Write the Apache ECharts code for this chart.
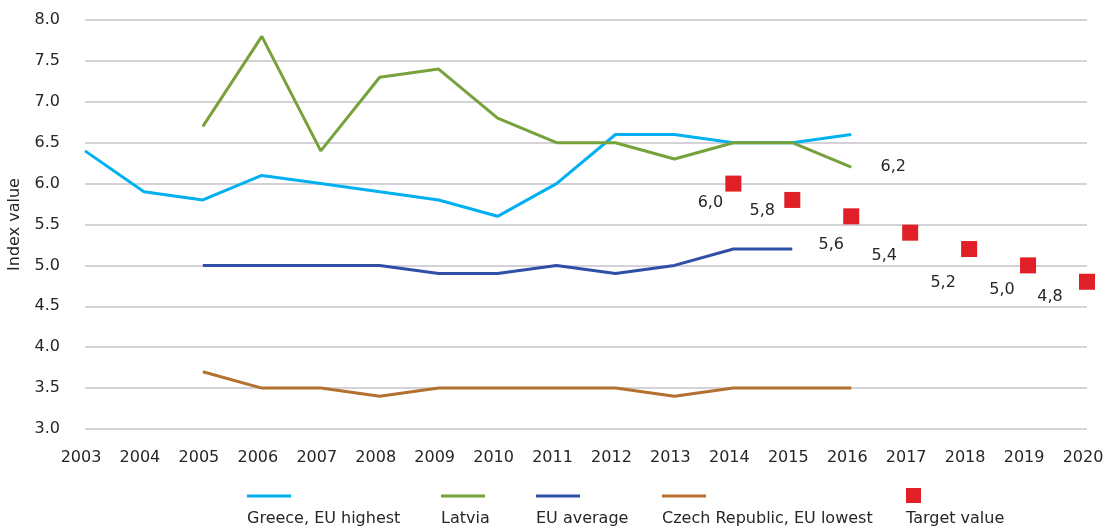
<!DOCTYPE html>
<html>
<head>
<meta charset="utf-8">
<script src="https://cdn.jsdelivr.net/npm/echarts@6/dist/echarts.min.js"></script>
<style>
  html, body { margin: 0; padding: 0; background: #fff; }
  #chart { width: 1104px; height: 530px; }
</style>
</head>
<body>
<div id="chart"></div>
<script>
// years on the x axis
const years = ['2003', '2004', '2005', '2006', '2007', '2008', '2009', '2010', '2011',
  '2012', '2013', '2014', '2015', '2016', '2017', '2018', '2019', '2020']

// index values per series (null = no data)
const greece = [6.4, 5.9, 5.8, 6.1, 6.0, 5.9, 5.8, 5.6, 6.0, 6.6, 6.6, 6.5, 6.5, 6.6, null, null, null, null]
const latvia = [null, null, 6.7, 7.8, 6.4, 7.3, 7.4, 6.8, 6.5, 6.5, 6.3, 6.5, 6.5, 6.2, null, null, null, null]
const euAverage = [null, null, 5.0, 5.0, 5.0, 5.0, 4.9, 4.9, 5.0, 4.9, 5.0, 5.2, 5.2, null, null, null, null, null]
const czech = [null, null, 3.7, 3.5, 3.5, 3.4, 3.5, 3.5, 3.5, 3.5, 3.4, 3.5, 3.5, 3.5, null, null, null, null]
const target = [null, null, null, null, null, null, null, null, null, null, null, 6.0, 5.8, 5.6, 5.4, 5.2, 5.0, 4.8]

// label offsets for the target values (styling only)
const targetLabelOffsets = [[-23, 19], [-30, 11], [-20, 29], [-26, 23], [-26, 34], [-26, 24], [-37, 15]]

const FONT = 'DejaVu Sans'
const TEXT = '#262626'
const colors = {
  greece: '#00b0f0',
  latvia: '#77a13a',
  eu: '#2f4ea6',
  czech: '#b4702e',
  target: '#e01f26'
}

const fmt = v => v.toFixed(1).replace('.', ',')

let k = 0
const targetData = target.map(v => {
  if (v === null) return null
  const off = targetLabelOffsets[k++]
  return { value: v, label: { offset: off } }
})

const lastLatvia = latvia.length - 1 - [...latvia].reverse().findIndex(v => v !== null)

function lineSeries(name, data, color) {
  return {
    name: name,
    type: 'line',
    data: data,
    symbol: 'none',
    connectNulls: false,
    lineStyle: { color: color, width: 3 },
    itemStyle: { color: color }
  }
}

// legend drawn as graphics: line/square on top, text below
const legendItems = [
  { x: 247, label: 'Greece, EU highest', color: colors.greece },
  { x: 441, label: 'Latvia', color: colors.latvia },
  { x: 536, label: 'EU average', color: colors.eu },
  { x: 662, label: 'Czech Republic, EU lowest', color: colors.czech },
  { x: 906, label: 'Target value', color: colors.target, square: true }
]
const legendGraphics = []
legendItems.forEach(it => {
  if (it.square) {
    legendGraphics.push({ type: 'rect', shape: { x: it.x, y: 488, width: 15, height: 15 }, style: { fill: it.color } })
  } else {
    legendGraphics.push({ type: 'line', shape: { x1: it.x, y1: 496, x2: it.x + 44, y2: 496 }, style: { stroke: it.color, lineWidth: 3 } })
  }
  legendGraphics.push({
    type: 'text', x: it.x, y: 519,
    style: { text: it.label, fill: TEXT, font: '16px "' + FONT + '"', textVerticalAlign: 'middle' }
  })
})

const chart = echarts.init(document.getElementById('chart'))
chart.setOption({
  animation: false,
  textStyle: { fontFamily: FONT },
  grid: { left: 85, right: 17, top: 20, bottom: 101, outerBoundsMode: 'none' },
  xAxis: {
    type: 'category',
    data: years,
    boundaryGap: false,
    axisLine: { show: false },
    axisTick: { show: false },
    axisLabel: { color: TEXT, fontSize: 16, margin: 21, fontFamily: FONT, padding: [0, 8, 0, 0] }
  },
  yAxis: {
    type: 'value',
    min: 3,
    max: 8,
    interval: 0.5,
    name: 'Index value',
    nameLocation: 'middle',
    nameRotate: 90,
    nameGap: 62,
    nameTextStyle: { color: TEXT, fontSize: 16, fontFamily: FONT },
    axisLine: { show: false },
    axisTick: { show: false },
    axisLabel: { color: TEXT, fontSize: 16, margin: 25, fontFamily: FONT, formatter: v => v.toFixed(1) },
    splitLine: { lineStyle: { color: '#c3c3cb', width: 1.5 } }
  },
  series: [
    lineSeries('Greece, EU highest', greece, colors.greece),
    Object.assign(lineSeries('Latvia', latvia, colors.latvia), {
      symbol: 'circle',
      symbolSize: 0.5,
      label: {
        show: true,
        position: 'right',
        distance: 29,
        color: TEXT,
        fontSize: 16,
        fontFamily: FONT,
        formatter: p => (p.dataIndex === lastLatvia ? fmt(p.value) : '')
      }
    }),
    lineSeries('EU average', euAverage, colors.eu),
    lineSeries('Czech Republic, EU lowest', czech, colors.czech),
    {
      name: 'Target value',
      type: 'scatter',
      data: targetData,
      symbol: 'rect',
      symbolSize: 16,
      itemStyle: { color: colors.target, opacity: 1 },
      label: {
        show: true,
        position: 'inside',
        color: TEXT,
        fontSize: 16,
        fontFamily: FONT,
        formatter: p => fmt(p.value)
      }
    }
  ],
  graphic: legendGraphics
})
</script>
</body>
</html>
